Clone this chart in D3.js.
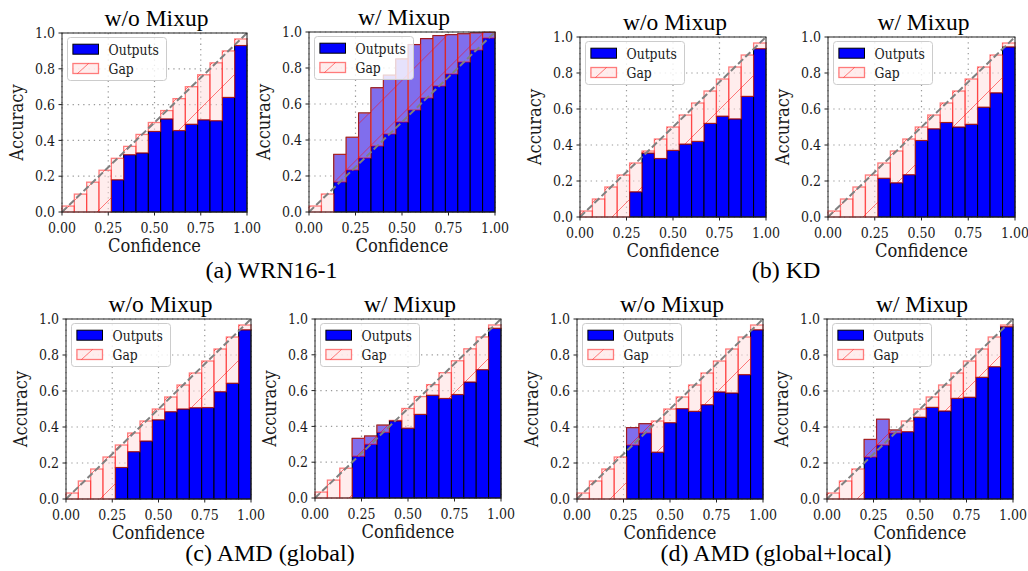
<!DOCTYPE html>
<html>
<head>
<meta charset="utf-8">
<script src="https://cdn.jsdelivr.net/npm/d3@7"></script>
<style>
  body { margin: 0; background: #fff; }
  svg { display: block; }
</style>
</head>
<body>
<div id="chart"></div>
<script>
// reliability diagrams, 15 confidence bins, accuracy per bin
const numBins = 15;
const xTicks = [0, 0.25, 0.5, 0.75, 1];
const yTicks = [0, 0.2, 0.4, 0.6, 0.8, 1];
const panelTitles = ["w/o Mixup", "w/ Mixup"];
const captions = ["(a) WRN16-1", "(b) KD", "(c) AMD (global)", "(d) AMD (global+local)"];
const legendLabels = ["Outputs", "Gap"];

const wrnNoMix = [0, 0, 0, 0, 0.18, 0.32, 0.33, 0.45, 0.52, 0.455, 0.49, 0.515, 0.51, 0.64, 0.93];
const wrnMix = [0, 0, 0.32, 0.415, 0.55, 0.69, 0.76, 0.85, 0.93, 0.963, 0.98, 0.985, 0.99, 0.995, 0.998];
const kdNoMix = [0, 0, 0, 0, 0.14, 0.355, 0.325, 0.37, 0.405, 0.42, 0.52, 0.56, 0.545, 0.67, 0.935];
const kdMix = [0, 0, 0, 0, 0.215, 0.19, 0.235, 0.425, 0.49, 0.525, 0.5, 0.515, 0.61, 0.69, 0.945];
const amdGlobalNoMix = [0, 0, 0, 0, 0.175, 0.263, 0.322, 0.44, 0.485, 0.5, 0.507, 0.508, 0.596, 0.643, 0.94];
const amdGlobalMix = [0, 0, 0, 0.333, 0.346, 0.407, 0.431, 0.39, 0.467, 0.574, 0.556, 0.578, 0.648, 0.717, 0.948];
const amdLocalNoMix = [0, 0, 0, 0, 0.396, 0.418, 0.26, 0.424, 0.502, 0.487, 0.524, 0.595, 0.589, 0.691, 0.94];
const amdLocalMix = [0, 0, 0, 0.331, 0.443, 0.383, 0.374, 0.454, 0.509, 0.489, 0.559, 0.565, 0.676, 0.735, 0.957];

// where each axes box sits on the page
const panels = [
  {values: wrnNoMix, title: 0, left: 62, top: 33, w: 185, h: 179, hatch: 35},
  {values: wrnMix, title: 1, left: 309, top: 32, w: 186, h: 180, hatch: -4.6},
  {values: kdNoMix, title: 0, left: 580, top: 37, w: 186, h: 180, hatch: 32},
  {values: kdMix, title: 1, left: 828, top: 37, w: 187, h: 180, hatch: 35},
  {values: amdGlobalNoMix, title: 0, left: 66, top: 319, w: 185, h: 180, hatch: 34},
  {values: amdGlobalMix, title: 1, left: 315, top: 319, w: 186, h: 179, hatch: 34},
  {values: amdLocalNoMix, title: 0, left: 577, top: 319, w: 186, h: 180, hatch: 33},
  {values: amdLocalMix, title: 1, left: 827, top: 319, w: 186, h: 180, hatch: 30}
];
const captionPos = [[271.5, 277.5], [786, 277.5], [270, 561], [776, 561]];

const width = 1028, height = 571;
const serif = "'DejaVu Serif', serif";
const times = "'Liberation Serif', 'Times New Roman', serif";
const stretch = 1.13;
const hatchStep = 34;

const svg = d3.select("#chart").append("svg")
  .attr("width", width)
  .attr("height", height);
const defs = svg.append("defs");

function label(g, x, y, txt, anchor, size, rotate) {
  return g.append("text")
    .attr("transform", `translate(${x},${y})` + (rotate ? " rotate(-90)" : "") + ` scale(1,${stretch})`)
    .attr("text-anchor", anchor)
    .style("font-family", serif)
    .style("font-size", size + "px")
    .attr("fill", "#1a1a1a")
    .text(txt);
}

panels.forEach((p, k) => {
  const x = d3.scaleLinear().domain([0, 1]).range([0, p.w]);
  const y = d3.scaleLinear().domain([0, 1]).range([p.h, 0]);
  const g = svg.append("g").attr("transform", `translate(${p.left},${p.top})`);
  const bw = x(1 / numBins) - x(0);

  // hatch pattern '/' anchored so a line hits the bottom axis at p.hatch
  const shift = ((p.hatch + p.h) % hatchStep + hatchStep) % hatchStep;
  const pat = defs.append("pattern")
    .attr("id", "hatch" + k)
    .attr("patternUnits", "userSpaceOnUse")
    .attr("x", shift).attr("y", 0)
    .attr("width", hatchStep).attr("height", hatchStep);
  [[-1, hatchStep + 1, hatchStep + 1, -1], [-1, 1, 1, -1], [hatchStep - 1, hatchStep + 1, hatchStep + 1, hatchStep - 1]]
    .forEach(s => pat.append("line")
      .attr("x1", s[0]).attr("y1", s[1]).attr("x2", s[2]).attr("y2", s[3])
      .attr("stroke", "red").attr("stroke-opacity", 0.5).attr("stroke-width", 1));

  // dotted grid
  g.selectAll(".gx").data(xTicks).enter().append("line")
    .attr("x1", d => x(d)).attr("x2", d => x(d))
    .attr("y1", 0).attr("y2", p.h)
    .attr("stroke", "#999").attr("stroke-width", 1.2)
    .attr("stroke-dasharray", "1.3,4");
  g.selectAll(".gy").data(yTicks).enter().append("line")
    .attr("y1", d => y(d)).attr("y2", d => y(d))
    .attr("x1", 0).attr("x2", p.w)
    .attr("stroke", "#999").attr("stroke-width", 1.2)
    .attr("stroke-dasharray", "1.3,4");

  const bins = p.values.map((v, i) => ({i, acc: v, conf: (i + 0.5) / numBins}));

  // outputs
  g.selectAll(".out").data(bins.filter(d => d.acc > 0)).enter().append("rect")
    .attr("x", d => x(d.i / numBins))
    .attr("width", bw)
    .attr("y", d => y(d.acc))
    .attr("height", d => y(0) - y(d.acc))
    .attr("fill", "#0000ff")
    .attr("stroke", "#000")
    .attr("stroke-width", 1);

  // gap between accuracy and bin confidence
  const gap = g.selectAll(".gap").data(bins).enter().append("g");
  gap.append("rect")
    .attr("x", d => x(d.i / numBins))
    .attr("width", bw)
    .attr("y", d => y(Math.max(d.acc, d.conf)))
    .attr("height", d => Math.abs(y(d.acc) - y(d.conf)))
    .attr("fill", "rgb(255,220,220)")
    .attr("fill-opacity", 0.5)
    .attr("stroke", "red")
    .attr("stroke-opacity", 0.5)
    .attr("stroke-width", 1.3);
  gap.append("rect")
    .attr("x", d => x(d.i / numBins))
    .attr("width", bw)
    .attr("y", d => y(Math.max(d.acc, d.conf)))
    .attr("height", d => Math.abs(y(d.acc) - y(d.conf)))
    .attr("fill", `url(#hatch${k})`);

  // perfect calibration
  g.append("line")
    .attr("x1", x(0)).attr("y1", y(0))
    .attr("x2", x(1)).attr("y2", y(1))
    .attr("stroke", "#808080")
    .attr("stroke-width", 2)
    .attr("stroke-dasharray", "7,3");

  // spines and ticks
  g.append("rect")
    .attr("width", p.w).attr("height", p.h)
    .attr("fill", "none").attr("stroke", "#222").attr("stroke-width", 1);
  g.selectAll(".tx").data(xTicks).enter().append("line")
    .attr("x1", d => x(d)).attr("x2", d => x(d))
    .attr("y1", p.h).attr("y2", p.h + 3.5)
    .attr("stroke", "#222");
  g.selectAll(".ty").data(yTicks).enter().append("line")
    .attr("y1", d => y(d)).attr("y2", d => y(d))
    .attr("x1", -3.5).attr("x2", 0)
    .attr("stroke", "#222");

  xTicks.forEach(t => label(g, x(t), p.h + 21, t.toFixed(2), "middle", 12.6));
  yTicks.forEach(t => label(g, -7, y(t) + 5.2, t.toFixed(1), "end", 12.6));
  label(g, p.w / 2, p.h + 40, "Confidence", "middle", 16.3);
  label(g, -39.5, p.h / 2, "Accuracy", "middle", 16.3, true);

  g.append("text")
    .attr("x", p.w / 2 + 2)
    .attr("y", -7.5)
    .attr("text-anchor", "middle")
    .style("font-family", times)
    .style("font-size", "23.5px")
    .attr("fill", "#000")
    .text(panelTitles[p.title]);

  // legend
  const lg = g.append("g").attr("transform", "translate(5.5,4.5)");
  lg.append("rect")
    .attr("width", 99).attr("height", 43).attr("rx", 3)
    .attr("fill", "#fff").attr("fill-opacity", 0.8)
    .attr("stroke", "#ccc").attr("stroke-width", 1);
  lg.append("rect")
    .attr("x", 5.4).attr("y", 6.7).attr("width", 25.6).attr("height", 10)
    .attr("fill", "#0000ff").attr("stroke", "#000");
  lg.append("rect")
    .attr("x", 5.4).attr("y", 26).attr("width", 25.6).attr("height", 10)
    .attr("fill", "rgb(255,220,220)").attr("fill-opacity", 0.5)
    .attr("stroke", "red").attr("stroke-opacity", 0.5).attr("stroke-width", 1.3);
  lg.append("line")
    .attr("x1", 10).attr("y1", 36).attr("x2", 21).attr("y2", 26)
    .attr("stroke", "red").attr("stroke-opacity", 0.5);
  label(lg, 41, 17.5, legendLabels[0], "start", 12.4);
  label(lg, 41, 36.5, legendLabels[1], "start", 12.4);
});

svg.selectAll(".caption").data(captions).enter().append("text")
  .attr("x", (d, i) => captionPos[i][0])
  .attr("y", (d, i) => captionPos[i][1])
  .attr("text-anchor", "middle")
  .style("font-family", times)
  .style("font-size", "24px")
  .attr("fill", "#000")
  .text(d => d);
</script>
</body>
</html>
